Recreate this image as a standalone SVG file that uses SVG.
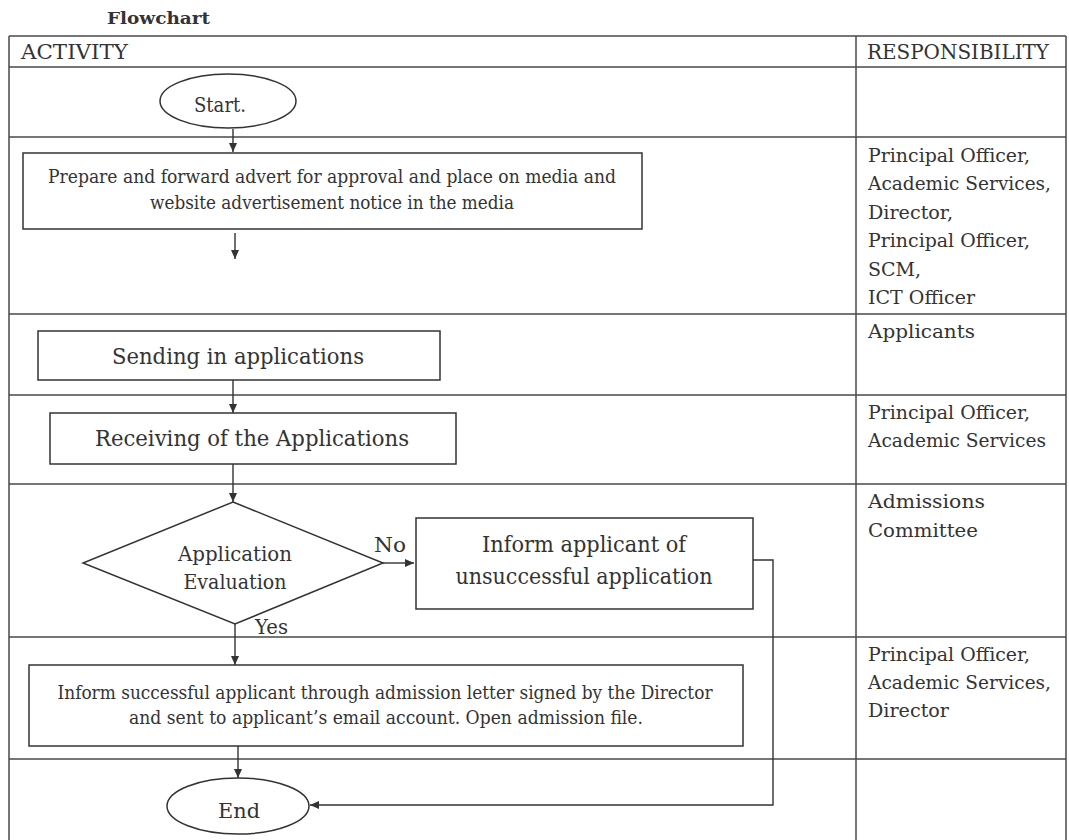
<svg xmlns="http://www.w3.org/2000/svg" width="1069" height="840" viewBox="0 0 1069 840">
<style>
.t{font-family:"DejaVu Serif","Liberation Serif",serif;fill:#333;}
.tb{font-family:"DejaVu Serif","Liberation Serif",serif;font-weight:bold;fill:#333;}
.grid{stroke:#4a4a4a;stroke-width:1.5;fill:none;}
.shape{stroke:#333;stroke-width:1.5;fill:#fff;}
.conn{stroke:#333;stroke-width:1.4;fill:none;}
.m{text-anchor:middle;}
</style>
<defs>
<marker id="ah" markerUnits="userSpaceOnUse" markerWidth="10" markerHeight="10" refX="9" refY="4" orient="auto">
<path d="M0,0 L9,4 L0,8 z" fill="#333"/>
</marker>
</defs>
<rect width="1069" height="840" fill="#fff"/>
<g id="title">
<text class="tb" x="107" y="24" font-size="17" textLength="103" lengthAdjust="spacingAndGlyphs">Flowchart</text>
</g>
<g id="table">
<path class="grid" d="M9,36 H1066 M9,36 V840 M1066,36 V840 M856,36 V840 M9,67 H1066 M9,137 H1066 M9,314 H1066 M9,395 H1066 M9,484 H1066 M9,637 H1066 M9,759 H1066"/>
<text class="t" x="21" y="59" font-size="20" textLength="107" lengthAdjust="spacingAndGlyphs">ACTIVITY</text>
<text class="t" x="867" y="59" font-size="19.5" textLength="182" lengthAdjust="spacingAndGlyphs">RESPONSIBILITY</text>
</g>
<g id="resp1" class="t" font-size="19">
<text x="868" y="162" textLength="162" lengthAdjust="spacingAndGlyphs">Principal Officer,</text>
<text x="868" y="190" textLength="183" lengthAdjust="spacingAndGlyphs">Academic Services,</text>
<text x="868" y="219" textLength="85" lengthAdjust="spacingAndGlyphs">Director,</text>
<text x="868" y="247" textLength="162" lengthAdjust="spacingAndGlyphs">Principal Officer,</text>
<text x="868" y="276" textLength="53" lengthAdjust="spacingAndGlyphs">SCM,</text>
<text x="868" y="304" textLength="107" lengthAdjust="spacingAndGlyphs">ICT Officer</text>
</g>
<g id="resp2" class="t" font-size="19">
<text x="868" y="338" textLength="107" lengthAdjust="spacingAndGlyphs">Applicants</text>
</g>
<g id="resp3" class="t" font-size="19">
<text x="868" y="419" textLength="162" lengthAdjust="spacingAndGlyphs">Principal Officer,</text>
<text x="868" y="447" textLength="178" lengthAdjust="spacingAndGlyphs">Academic Services</text>
</g>
<g id="resp4" class="t" font-size="19">
<text x="868" y="508" textLength="117" lengthAdjust="spacingAndGlyphs">Admissions</text>
<text x="868" y="537" textLength="110" lengthAdjust="spacingAndGlyphs">Committee</text>
</g>
<g id="resp5" class="t" font-size="19">
<text x="868" y="661" textLength="162" lengthAdjust="spacingAndGlyphs">Principal Officer,</text>
<text x="868" y="689" textLength="183" lengthAdjust="spacingAndGlyphs">Academic Services,</text>
<text x="868" y="717" textLength="81" lengthAdjust="spacingAndGlyphs">Director</text>
</g>
<g id="start">
<ellipse class="shape" cx="228" cy="101" rx="68" ry="27"/>
<text class="t m" x="220" y="112" font-size="21" textLength="52" lengthAdjust="spacingAndGlyphs">Start.</text>
</g>
<g id="prepare">
<rect class="shape" x="23" y="153" width="619" height="76"/>
<text class="t m" x="332" y="183" font-size="18" textLength="568" lengthAdjust="spacingAndGlyphs">Prepare and forward advert for approval and place on media and</text>
<text class="t m" x="332" y="209" font-size="18" textLength="364" lengthAdjust="spacingAndGlyphs">website advertisement notice in the media</text>
</g>
<g id="sending">
<rect class="shape" x="38" y="331" width="402" height="49"/>
<text class="t m" x="238" y="364" font-size="22" textLength="252" lengthAdjust="spacingAndGlyphs">Sending in applications</text>
</g>
<g id="receiving">
<rect class="shape" x="50" y="413" width="406" height="51"/>
<text class="t m" x="252" y="446" font-size="22" textLength="314" lengthAdjust="spacingAndGlyphs">Receiving of the Applications</text>
</g>
<g id="evaluation">
<polygon class="shape" points="233,502 383,563 235,624 83,563"/>
<text class="t m" x="235" y="561" font-size="20" textLength="114" lengthAdjust="spacingAndGlyphs">Application</text>
<text class="t m" x="235" y="589" font-size="20" textLength="103" lengthAdjust="spacingAndGlyphs">Evaluation</text>
</g>
<g id="unsuccessful">
<rect class="shape" x="416" y="518" width="337" height="91"/>
<text class="t m" x="584" y="552" font-size="22" textLength="204" lengthAdjust="spacingAndGlyphs">Inform applicant of</text>
<text class="t m" x="584" y="584" font-size="22" textLength="257" lengthAdjust="spacingAndGlyphs">unsuccessful application</text>
</g>
<g id="successful">
<rect class="shape" x="29" y="665" width="714" height="81"/>
<text class="t m" x="385" y="699" font-size="18" textLength="655" lengthAdjust="spacingAndGlyphs">Inform successful applicant through admission letter signed by the Director</text>
<text class="t m" x="386" y="724" font-size="18" textLength="514" lengthAdjust="spacingAndGlyphs">and sent to applicant’s email account. Open admission file.</text>
</g>
<g id="end">
<ellipse class="shape" cx="238" cy="806" rx="71" ry="28"/>
<text class="t m" x="239" y="818" font-size="21" textLength="42" lengthAdjust="spacingAndGlyphs">End</text>
</g>
<g id="connectors">
<path class="conn" d="M233,129 V152" marker-end="url(#ah)"/>
<path class="conn" d="M235,233 V259" marker-end="url(#ah)"/>
<path class="conn" d="M233,380 V413" marker-end="url(#ah)"/>
<path class="conn" d="M233,464 V502" marker-end="url(#ah)"/>
<path class="conn" d="M383,563 H414" marker-end="url(#ah)"/>
<path class="conn" d="M235,624 V665" marker-end="url(#ah)"/>
<path class="conn" d="M238,746 V778" marker-end="url(#ah)"/>
<path class="conn" d="M753,560 H773 V805 H310" marker-end="url(#ah)"/>
<text class="t" x="374" y="552" font-size="20" textLength="32" lengthAdjust="spacingAndGlyphs">No</text>
<text class="t" x="255" y="634" font-size="20" textLength="33" lengthAdjust="spacingAndGlyphs">Yes</text>
</g>
</svg>
